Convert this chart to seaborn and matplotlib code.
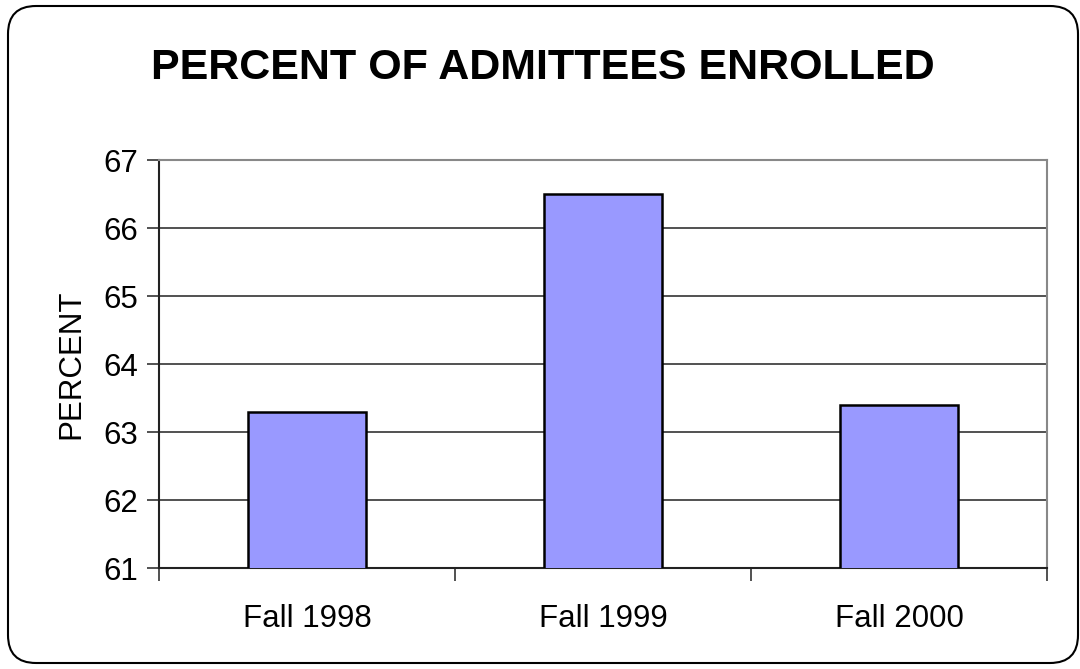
import numpy as np
import pandas as pd

import matplotlib
matplotlib.use('Agg')

from matplotlib import pyplot as plt
from matplotlib.patches import FancyBboxPatch
import seaborn as sns

# chart data
terms = ["Fall 1998", "Fall 1999", "Fall 2000"]
pct_enrolled = [63.3, 66.5, 63.4]
y_ticks = [61, 62, 63, 64, 65, 66, 67]

sns.set_style("white")
plt.rcParams['font.family'] = ['Liberation Sans', 'DejaVu Sans']
plt.rcParams['text.color'] = 'black'
plt.rcParams['axes.labelcolor'] = 'black'
plt.rcParams['xtick.color'] = 'black'
plt.rcParams['ytick.color'] = 'black'

fig = plt.figure(figsize=(10.8, 6.69), dpi=100)
ax = fig.add_axes([159 / 1080, 1 - 568 / 669, (1047 - 159) / 1080, (568 - 160) / 669])

df = pd.DataFrame({"term": terms, "pct": pct_enrolled})
sns.barplot(data=df, x="term", y="pct", color="#9999FF", width=0.4,
            edgecolor="black", linewidth=1.8, saturation=1, ax=ax, zorder=3)

ax.set_ylim(61, 67)
ax.set_xlim(-0.5, 2.5)
ax.set_yticks(y_ticks)
ax.set_yticklabels([str(t) for t in y_ticks], fontsize=22.5)
ax.yaxis.grid(True, color="#333333", linewidth=1.2, zorder=0)
ax.set_axisbelow(True)

# category ticks sit between the bars
ax.set_xticks(np.arange(len(terms)))
ax.set_xticklabels(terms, fontsize=22.5)
ax.set_xticks(np.arange(len(terms) + 1) - 0.5, minor=True)
ax.tick_params(axis="x", which="major", length=0, pad=26)
ax.tick_params(axis="x", which="minor", bottom=True, length=9, width=1.2,
               color="#333333", direction="out")
ax.tick_params(axis="y", length=9, width=1.2, color="#333333", direction="out", left=True, pad=6)

ax.set_xlabel("")
ax.set_ylabel("PERCENT", fontsize=22.5, labelpad=12)

for side in ["left", "bottom"]:
    ax.spines[side].set_color("#222222")
    ax.spines[side].set_linewidth(1.5)
for side in ["right", "top"]:
    ax.spines[side].set_color("#888888")
    ax.spines[side].set_linewidth(1.5)

fig.text(543 / 1080, 1 - 68 / 669, "PERCENT OF ADMITTEES ENROLLED",
         ha="center", va="center", fontsize=31, fontweight="bold", color="black")

# rounded frame round the whole chart, drawn in pixels
frame = FancyBboxPatch((8, 6), 1070, 657, boxstyle="round,pad=0,rounding_size=28",
                       transform=None, facecolor="none", edgecolor="black", linewidth=1.5)
fig.patches.append(frame)

plt.savefig("out.png", dpi=100)
plt.close(fig)
